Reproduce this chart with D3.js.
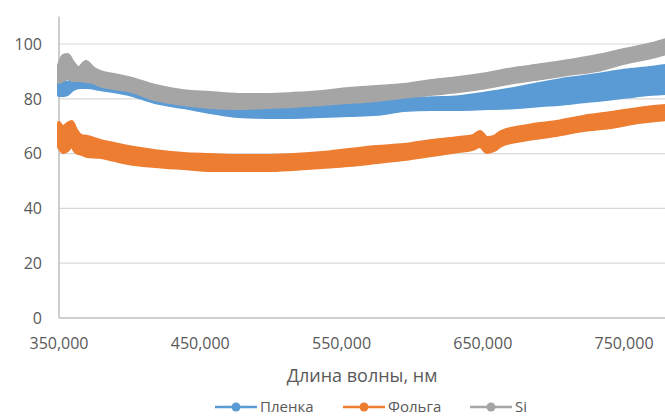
<!DOCTYPE html>
<html><head><meta charset="utf-8">
<script src="https://cdn.jsdelivr.net/npm/d3@7"></script>
<style>body{margin:0;background:#fff}svg{display:block}text{font-family:"Open Sans",sans-serif;fill:#595959}</style>
</head><body><svg id="c" width="665" height="417"></svg>
<script>
const yTicks = [0, 20, 40, 60, 80, 100];
const xTicks = [350, 450, 550, 650, 750];
const xTickLabels = ["350,000", "450,000", "550,000", "650,000", "750,000"];
const xTitle = "Длина волны, нм";
const seriesNames = ["Пленка", "Фольга", "Si"];
const seriesColors = ["#5b9bd5", "#ed7d31", "#a5a5a5"];

// Пленка (blue): upper / lower envelope of the noisy trace
const filmWl = [350,353,356,360,365,370,379,399,418,438,457,477,497,516,536,555,575,594,614,633,653,672,692,711,731,750,770,780];
const filmHi = [86.9,86.5,85.8,87.2,88.0,88.3,87.2,85.4,82.5,80.7,79.2,78.1,77.4,77.4,77.7,78.1,78.8,79.8,80.2,80.6,82.0,83.6,85.6,87.3,88.7,90.2,91.3,92.0];
const filmLo = [81.4,81.4,81.8,83.6,84.3,84.3,83.6,81.8,78.8,77.0,75.2,73.7,73.4,73.4,73.7,74.1,74.5,75.9,76.3,76.3,76.6,76.9,77.7,78.5,79.6,80.7,81.8,82.1];

// Фольга (orange)
const foilWl = [350,353,356,359,362,366,370,379,389,399,418,438,457,477,497,516,536,555,575,594,614,633,643,648,653,658,663,682,702,721,741,760,780];
const foilHi = [71.2,69.7,70.8,71.5,68.6,66.4,66.1,64.6,63.5,62.4,60.9,59.9,59.5,59.1,59.1,59.5,60.2,61.3,62.4,63.1,64.6,65.7,66.4,67.9,65.7,66.1,67.9,70.1,71.5,73.4,74.8,76.3,77.4];
const foilLo = [62.4,60.6,61.3,62.8,60.6,59.9,59.1,58.8,57.7,56.6,55.5,54.7,54.0,54.0,54.0,54.4,55.1,55.8,56.9,58.0,59.5,60.9,61.7,62.8,60.6,61.3,63.1,65.3,66.8,68.6,69.7,71.5,72.6];

// Si (grey)
const siWl = [350,353,356,360,364,369,374,379,389,399,418,438,457,477,497,516,536,555,575,594,614,633,653,672,692,711,731,750,770,780];
const siHi = [92.3,95.6,96.0,93.1,91.2,93.4,91.2,89.8,88.7,87.6,84.7,82.8,82.1,81.4,81.4,81.8,82.5,83.6,84.3,85.0,86.5,87.6,89.1,90.9,92.3,93.8,95.6,97.8,100.0,101.5];
const siLo = [86.1,86.9,87.6,86.9,86.9,86.5,86.1,85.0,83.9,83.2,79.9,78.1,77.0,76.6,77.0,77.4,78.1,78.8,79.6,80.7,81.8,82.8,84.3,86.1,87.6,89.1,90.5,93.1,95.3,96.7];

const svg = d3.select("#c");
const x = d3.scaleLinear().domain([350, 779]).range([59, 665]);
const y = d3.scaleLinear().domain([0, 110]).range([318, 16.6]);

// gridlines
svg.append("g").selectAll("line").data(yTicks.filter(d => d > 0)).join("line")
  .attr("x1", x(350)).attr("x2", 665).attr("y1", d => y(d)).attr("y2", d => y(d))
  .attr("stroke", "#d9d9d9").attr("stroke-width", 1.2);

// axes lines
svg.append("line").attr("x1", x(350)).attr("x2", x(350)).attr("y1", y(110)).attr("y2", y(0))
  .attr("stroke", "#b3b3b3").attr("stroke-width", 1.3);
svg.append("line").attr("x1", x(350)).attr("x2", 665).attr("y1", y(0)).attr("y2", y(0))
  .attr("stroke", "#bfbfbf").attr("stroke-width", 1.3);

// y tick labels
svg.append("g").selectAll("text").data(yTicks).join("text")
  .attr("x", 42).attr("y", d => y(d)).attr("dy", "0.36em").attr("text-anchor", "end")
  .style("font-size", "16px").text(d => d);

// x tick labels
svg.append("g").selectAll("text").data(xTicks).join("text")
  .attr("x", d => x(d)).attr("y", 349).attr("text-anchor", "middle")
  .style("font-size", "16px").text((d, i) => xTickLabels[i]);

// x title
svg.append("text").attr("x", 362).attr("y", 382).attr("text-anchor", "middle")
  .style("font-size", "18px").text(xTitle);

// series bands
const series = [
  {wl: filmWl, hi: filmHi, lo: filmLo},
  {wl: foilWl, hi: foilHi, lo: foilLo},
  {wl: siWl, hi: siHi, lo: siLo}
];
const area = d3.area().x(d => x(d.w)).y0(d => y(d.lo)).y1(d => y(d.hi)).curve(d3.curveMonotoneX);
const gData = svg.append("g");
series.forEach((s, i) => {
  const pts = s.wl.map((w, j) => ({w, hi: s.hi[j], lo: s.lo[j]}));
  gData.append("path").attr("d", area(pts))
    .attr("fill", seriesColors[i]).attr("stroke", seriesColors[i])
    .attr("stroke-width", 4).attr("stroke-linejoin", "round");
});

// legend
const legX = [215, 343, 470];
const lg = svg.append("g");
seriesNames.forEach((n, i) => {
  const g = lg.append("g").attr("transform", `translate(${legX[i]},407)`);
  g.append("line").attr("x1", 0).attr("x2", 42).attr("stroke", seriesColors[i]).attr("stroke-width", 2.5);
  g.append("circle").attr("cx", 21).attr("r", 4.5).attr("fill", seriesColors[i]);
  g.append("text").attr("x", 45).attr("dy", "0.36em").style("font-size", "15px").text(n);
});
</script></body></html>
